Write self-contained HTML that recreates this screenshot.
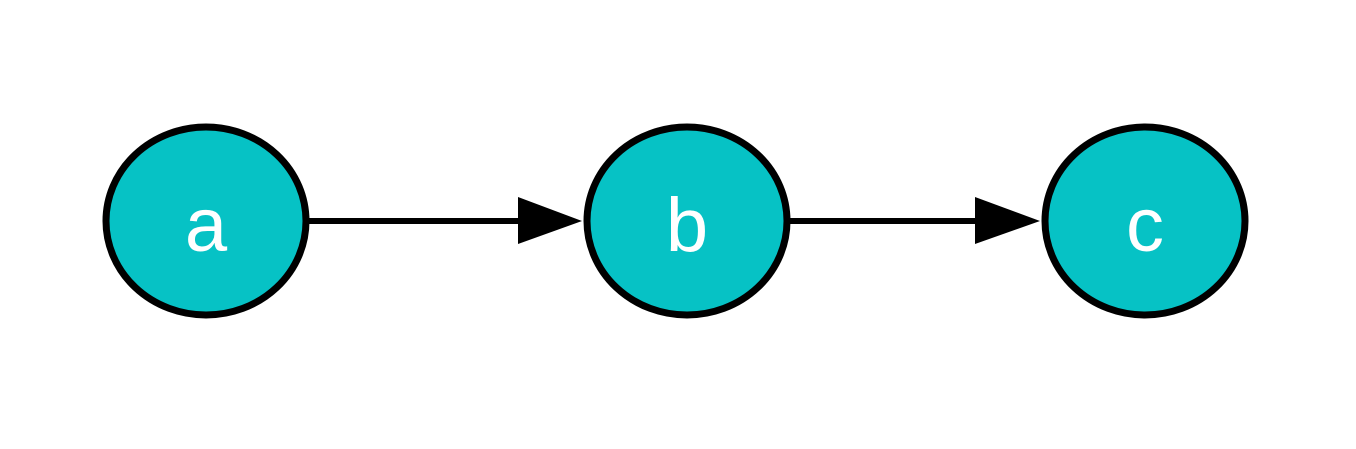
<!DOCTYPE html>
<html><head><style>html,body{margin:0;padding:0;background:#fff;}</style></head>
<body>
<svg width="1356" height="444" xmlns="http://www.w3.org/2000/svg">
<g fill="#06c2c5" stroke="#000" stroke-width="7">
<ellipse cx="206" cy="221" rx="100" ry="94"/>
<ellipse cx="687" cy="221" rx="100" ry="94"/>
<ellipse cx="1145" cy="221" rx="100" ry="94"/>
</g>
<g stroke="#000" stroke-width="6">
<line x1="309" y1="221" x2="522" y2="221"/>
<line x1="790" y1="221" x2="978" y2="221"/>
</g>
<polygon points="518,197 582,221 518,244" fill="#000"/>
<polygon points="975,197 1040,221 975,244" fill="#000"/>
<g fill="#fff" font-family="Liberation Sans, sans-serif" font-size="76" text-anchor="middle">
<text x="206" y="251">a</text>
<text x="687" y="251">b</text>
<text x="1145" y="251">c</text>
</g>
</svg>
</body></html>
